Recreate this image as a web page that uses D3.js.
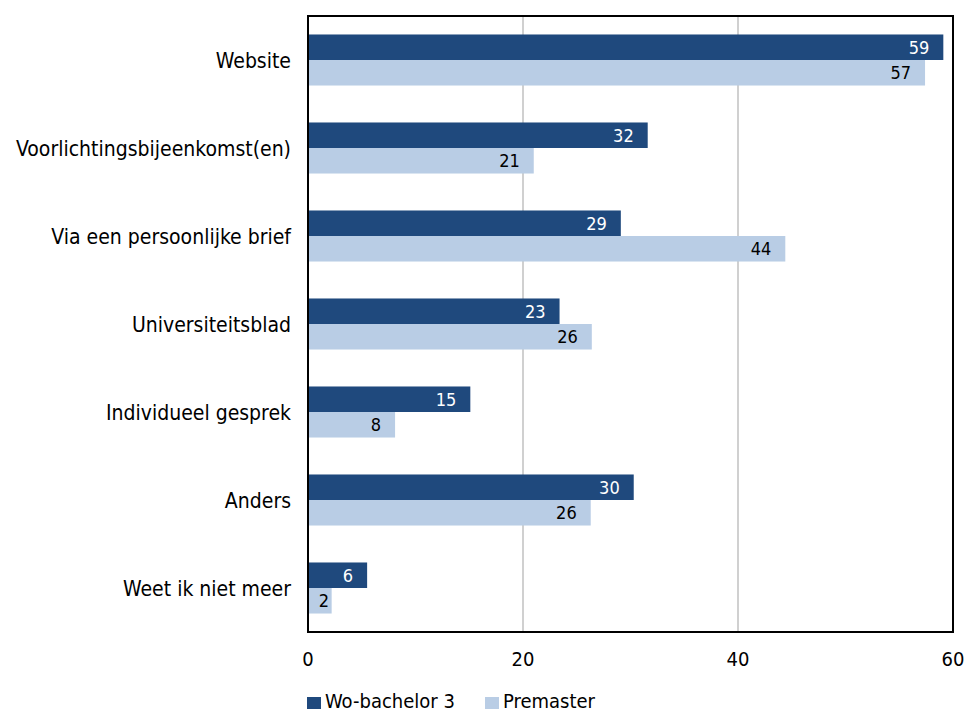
<!DOCTYPE html>
<html>
<head>
<meta charset="utf-8">
<script src="https://cdn.jsdelivr.net/npm/d3@7"></script>
<style>
  body { margin: 0; background: #fff; overflow: hidden; }
  text { font-family: "DejaVu Sans Condensed", "DejaVu Sans", Verdana, sans-serif; }
</style>
</head>
<body>
<div id="chart"></div>
<script>
// categories and series (percentages)
var categories = ["Website", "Voorlichtingsbijeenkomst(en)", "Via een persoonlijke brief",
  "Universiteitsblad", "Individueel gesprek", "Anders", "Weet ik niet meer"];
var wobachelor = [59.1, 31.6, 29.1, 23.4, 15.1, 30.3, 5.5];
var premaster = [57.4, 21.0, 44.4, 26.4, 8.1, 26.3, 2.2];
var seriesNames = ["Wo-bachelor 3", "Premaster"];
var xTicks = [0, 20, 40, 60];

var W = 966, H = 713;
var margin = { top: 16, right: 13, bottom: 81, left: 308 };
var width = W - margin.left - margin.right,
    height = H - margin.top - margin.bottom;

var colors = ["#1f497d", "#b9cde5"];

var svg = d3.select("#chart").append("svg")
  .attr("width", W).attr("height", H)
  .style("display", "block");
var g = svg.append("g")
  .attr("transform", "translate(" + margin.left + "," + margin.top + ")");

var x = d3.scaleLinear().domain([0, 60]).range([0, width]);
var y = d3.scaleBand().domain(categories).range([0, height]).paddingInner(0.42).paddingOuter(0.21);
var sub = d3.scaleBand().domain(seriesNames).range([0, y.bandwidth()]);

// gridlines
g.selectAll(".grid").data(xTicks.slice(1, -1)).enter().append("line")
  .attr("x1", function (d) { return x(d); }).attr("x2", function (d) { return x(d); })
  .attr("y1", 0).attr("y2", height)
  .attr("stroke", "#c0c0c0").attr("stroke-width", 1.5);

// bars
var data = categories.map(function (c, i) {
  return { cat: c, vals: [wobachelor[i], premaster[i]] };
});
var groups = g.selectAll(".cat").data(data).enter().append("g")
  .attr("transform", function (d) { return "translate(0," + y(d.cat) + ")"; });

var cells = function (d) {
  return d.vals.map(function (v, j) { return { s: seriesNames[j], v: v, j: j }; });
};

groups.selectAll("rect").data(cells).enter().append("rect")
  .attr("x", 0)
  .attr("y", function (d) { return sub(d.s); })
  .attr("width", function (d) { return x(d.v); })
  .attr("height", sub.bandwidth())
  .attr("fill", function (d) { return colors[d.j]; });

// value labels, inside end (short bars: keep label clear of the frame)
groups.selectAll(".lbl").data(cells).enter().append("text")
  .attr("x", function (d) { return Math.max(x(d.v) - 14, 21); })
  .attr("y", function (d) { return sub(d.s) + sub.bandwidth() / 2; })
  .attr("dy", "0.36em")
  .attr("text-anchor", "end")
  .style("font-size", "18px")
  .attr("fill", function (d) { return d.j === 0 ? "#fff" : "#000"; })
  .text(function (d) { return Math.round(d.v); });

// frame
g.append("rect").attr("x", 0).attr("y", 0).attr("width", width).attr("height", height)
  .attr("fill", "none").attr("stroke", "#000").attr("stroke-width", 2);

// category labels
g.selectAll(".cl").data(categories).enter().append("text")
  .attr("x", -17)
  .attr("y", function (d) { return y(d) + y.bandwidth() / 2; })
  .attr("dy", "0.36em")
  .attr("text-anchor", "end")
  .style("font-size", "21px")
  .attr("fill", "#000")
  .text(function (d) { return d; });

// x axis labels
g.selectAll(".xl").data(xTicks).enter().append("text")
  .attr("x", function (d) { return x(d); })
  .attr("y", height + 27)
  .attr("dy", "0.36em")
  .attr("text-anchor", "middle")
  .style("font-size", "20px")
  .text(function (d) { return d; });

// legend
var legX = [307, 485];
var leg = svg.selectAll(".leg").data(seriesNames).enter().append("g")
  .attr("transform", function (d, i) { return "translate(" + legX[i] + "," + 702 + ")"; });
leg.append("rect").attr("x", 0).attr("y", -5).attr("width", 14).attr("height", 12)
  .attr("fill", function (d, i) { return colors[i]; });
leg.append("text").attr("x", 18).attr("y", 6)
  .style("font-size", "20px").text(function (d) { return d; });
</script>
</body>
</html>
